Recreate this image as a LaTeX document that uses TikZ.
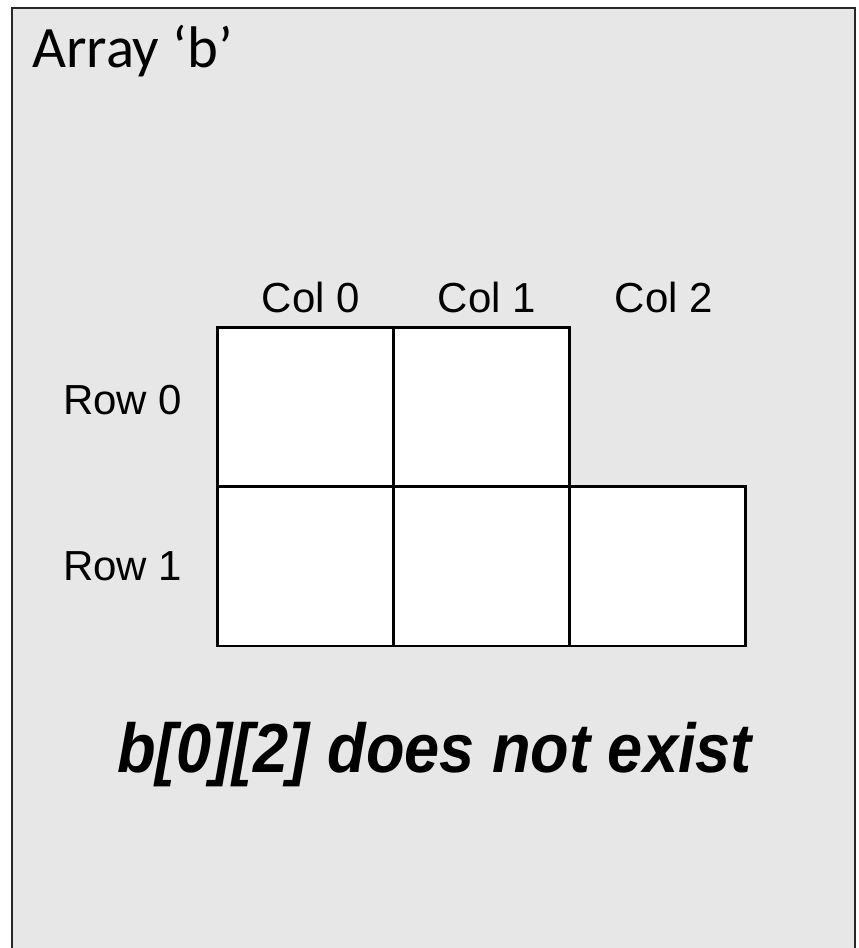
\documentclass[tikz,border=0pt]{standalone}
\usepackage{fontspec}
\setmainfont{Liberation Sans}
\newfontfamily\calibrifont{Carlito}
\usetikzlibrary{positioning}
\definecolor{paper}{RGB}{231, 231, 231}
\definecolor{framegray}{RGB}{40, 40, 40}

\begin{document}
\begin{tikzpicture}[
    x=0.75pt, y=-0.75pt,
    cell/.style={draw=black, line width=2.2pt, fill=white, outer sep=0pt,
                 minimum width=132pt, minimum height=119.5pt, inner sep=0pt},
    lbl/.style={font=\fontsize{31.5pt}{36pt}\selectfont, inner sep=0pt}
]
    \useasboundingbox (0,0) rectangle (858,948);
    % paper background and frame (open at the bottom)
    \fill[paper] (12,8) rectangle (855,948);
    \draw[framegray, line width=2pt] (12,948) -- (12,8) -- (855,8) -- (855,948);

    \node[anchor=base west, inner sep=0pt, font=\calibrifont\fontsize{44pt}{52pt}\selectfont]
        (title) at (32,68) {Array ‘b’};

    % the ragged array
    \node[cell] (c00) at (305.5,407) {};
    \node[cell, right=0pt of c00] (c01) {};
    \node[cell, below=0pt of c00] (c10) {};
    \node[cell, right=0pt of c10] (c11) {};
    \node[cell, right=0pt of c11] (c12) {};

    \node[lbl, anchor=base] (col0) at (311,312) {Col 0};
    \node[lbl, anchor=base] (col1) at (487,312) {Col 1};
    \node[lbl, anchor=base] (col2) at (664,312) {Col 2};
    \node[lbl, anchor=base west] (row0) at (63,414) {Row 0};
    \node[lbl, anchor=base west] (row1) at (63,580) {Row 1};

    \node[anchor=base west, inner sep=0pt, xscale=0.91,
          font=\fontsize{52pt}{60pt}\selectfont\bfseries\itshape]
        (note) at (117,772) {b[0][2] does not exist};
\end{tikzpicture}
\end{document}
